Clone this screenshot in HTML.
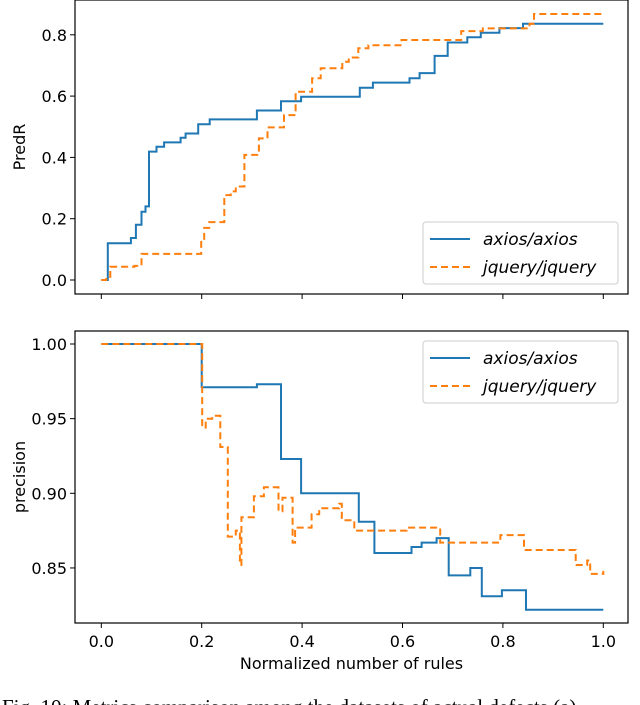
<!DOCTYPE html>
<html><head><meta charset="utf-8"><style>
body{margin:0;background:#fff;width:640px;height:705px;overflow:hidden}
svg{display:block}
text{font-family:"DejaVu Sans","Liberation Sans",sans-serif;fill:#000}
</style></head><body>
<svg id="chart" width="640" height="705"></svg>
<script>
const axiosTopX=[0,0.013,0.059,0.069,0.08,0.088,0.095,0.11,0.125,0.158,0.168,0.193,0.216,0.31,0.358,0.398,0.515,0.541,0.614,0.634,0.664,0.69,0.729,0.756,0.793,0.84,1.0];
const axiosTopY=[0,0.12,0.137,0.18,0.223,0.24,0.419,0.435,0.449,0.464,0.478,0.508,0.524,0.553,0.583,0.598,0.627,0.644,0.658,0.675,0.731,0.775,0.792,0.807,0.822,0.836,0.836];
const jqTopX=[0,0.01,0.018,0.066,0.08,0.199,0.205,0.215,0.245,0.258,0.268,0.285,0.314,0.331,0.364,0.387,0.42,0.437,0.48,0.493,0.512,0.532,0.598,0.717,0.76,0.853,0.862,1.0];
const jqTopY=[0,0.01,0.043,0.046,0.085,0.13,0.17,0.189,0.277,0.289,0.305,0.408,0.462,0.498,0.538,0.614,0.658,0.691,0.712,0.726,0.756,0.766,0.783,0.812,0.821,0.836,0.868,0.868];
const axiosBotX=[0,0.2,0.31,0.358,0.398,0.513,0.544,0.618,0.638,0.668,0.692,0.735,0.758,0.798,0.846,1.0];
const axiosBotY=[1.0,0.971,0.973,0.923,0.9,0.881,0.86,0.864,0.867,0.870,0.845,0.850,0.831,0.835,0.822,0.822];
const jqBotX=[0,0.201,0.208,0.221,0.237,0.252,0.268,0.276,0.279,0.304,0.324,0.353,0.361,0.381,0.386,0.419,0.434,0.474,0.479,0.504,0.608,0.675,0.795,0.842,0.945,0.968,0.974,1.0];
const jqBotY=[1.0,0.944,0.950,0.952,0.931,0.871,0.875,0.852,0.884,0.898,0.904,0.888,0.897,0.867,0.877,0.886,0.890,0.893,0.882,0.875,0.877,0.867,0.872,0.862,0.852,0.855,0.846,0.848];
const xTicks=[0,0.2,0.4,0.6,0.8,1.0];
const topTicks=[0,0.2,0.4,0.6,0.8];
const botTicks=[0.85,0.90,0.95,1.00];

const NS="http://www.w3.org/2000/svg";
const svg=document.getElementById('chart');
function el(t,a,p){const e=document.createElementNS(NS,t);for(const k in a)e.setAttribute(k,a[k]);(p||svg).appendChild(e);return e;}
const L=75,R=628;
const xs=v=>101.3+502*v;
const yTop=v=>280-306.5*v;
const yBot=v=>344+(1-v)*1493;
function stepPath(X,Y,ys){let d='';for(let i=0;i<X.length;i++){const x=xs(X[i]).toFixed(1);if(i===0)d+='M'+x+','+ys(Y[0]).toFixed(1);else{d+='L'+x+','+ys(Y[i-1]).toFixed(1)+'L'+x+','+ys(Y[i]).toFixed(1);}}return d;}

function panel(name,top,bot,ys,ticks,fmt,label,series,legY){
  const g=el('g',{});
  
  
  series.forEach(s=>{
    const p=el('path',{d:stepPath(s.x,s.y,ys),fill:'none',stroke:s.c,'stroke-width':2,'stroke-dasharray':s.dash||'none'},g);
    
    
  });
  const fr=el('rect',{x:L,y:top,width:R-L,height:bot-top,fill:'none',stroke:'#000','stroke-width':1.2},g);
  
  
  ticks.forEach(t=>{
    const y=ys(t);
    el('line',{x1:L-5,x2:L,y1:y,y2:y,stroke:'#000'},g);
    const tx=el('text',{x:L-8,y:y+6,'text-anchor':'end','font-size':16},g);
    tx.textContent=fmt(t);
    
    
  });
  xTicks.forEach(t=>{el('line',{x1:xs(t),x2:xs(t),y1:bot,y2:bot+5,stroke:'#000'},g);});
  const yl=el('text',{transform:'translate(25,'+((top+bot)/2)+') rotate(-90)','text-anchor':'middle','font-size':16},g);
  yl.textContent=label;
  
  
  const lg=el('g',{},g);
  
  
  el('rect',{x:423,y:legY,width:195,height:62,rx:3,fill:'#fff','fill-opacity':0.8,stroke:'#ccc'},lg);
  series.forEach((s,i)=>{
    const yy=legY+17+i*28;
    el('line',{x1:430,x2:470,y1:yy,y2:yy,stroke:s.c,'stroke-width':2,'stroke-dasharray':s.dash||'none'},lg);
    const t=el('text',{x:483,y:yy+6,'font-size':17,'font-style':'italic'},lg);
    t.textContent=s.label;
    
    
  });
}
const B='#1f77b4',O='#ff7f0e';
panel('top-panel',0,294,yTop,topTicks,t=>t.toFixed(1),'PredR',[
 {x:axiosTopX,y:axiosTopY,c:B,n:'axios-predr-line',label:'axios/axios'},
 {x:jqTopX,y:jqTopY,c:O,dash:'7,4',n:'jquery-predr-line',label:'jquery/jquery'}],222);
panel('bottom-panel',331,623,yBot,botTicks,t=>t.toFixed(2),'precision',[
 {x:axiosBotX,y:axiosBotY,c:B,n:'axios-precision-line',label:'axios/axios'},
 {x:jqBotX,y:jqBotY,c:O,dash:'7,4',n:'jquery-precision-line',label:'jquery/jquery'}],341);
xTicks.forEach(t=>{
  const tx=el('text',{x:xs(t),y:647,'text-anchor':'middle','font-size':16});
  tx.textContent=t.toFixed(1);
  
  
});
const xl=el('text',{x:(L+R)/2,y:669,'text-anchor':'middle','font-size':16});
xl.textContent='Normalized number of rules';


const cap=el('text',{x:2,y:714,'font-size':21,style:'font-family:"Liberation Serif",serif'});
cap.textContent='Fig. 10: Metrics comparison among the datasets of actual defects (a)';


</script>
</body></html>
